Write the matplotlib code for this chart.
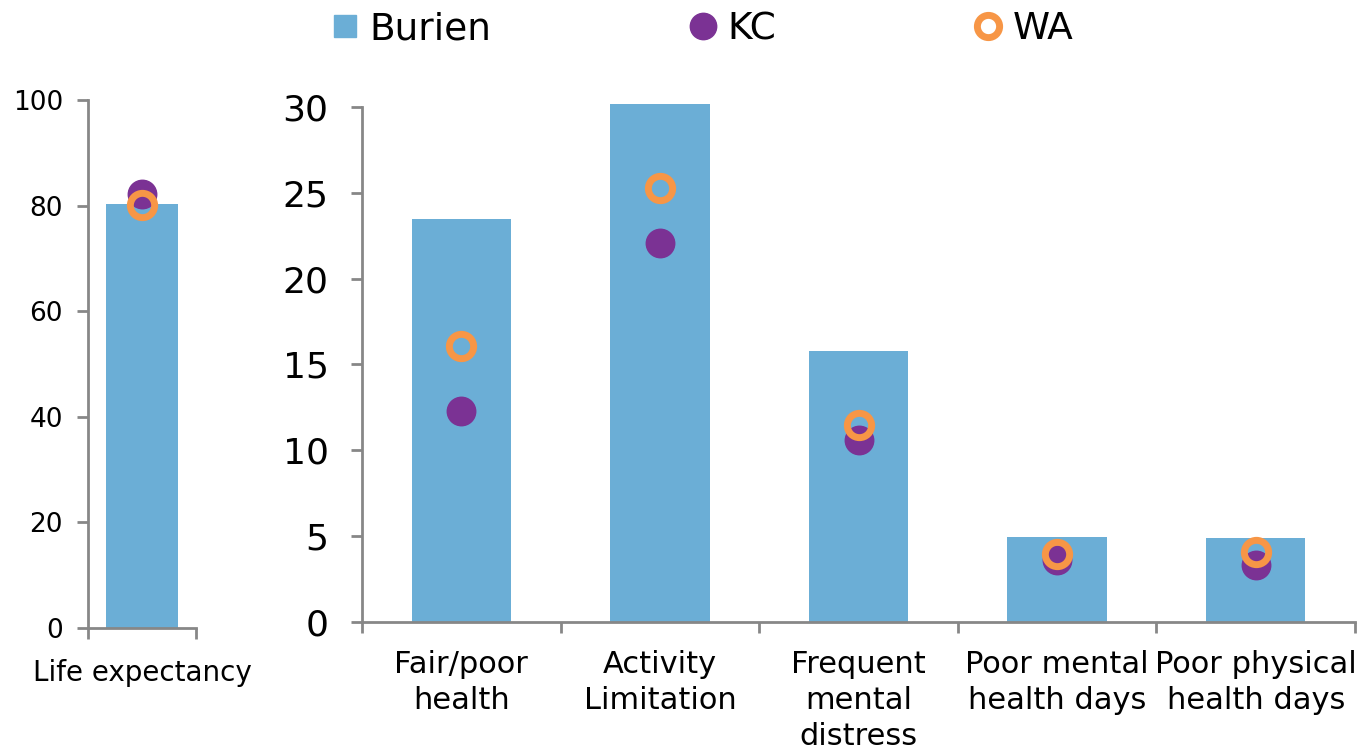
import numpy as np
import matplotlib.pyplot as plt
from matplotlib.lines import Line2D

# data ########################################################################
life_label = ['Life expectancy']
life_burien = [80.3]
life_kc = [82.2]
life_wa = [80.2]

categories = ['Fair/poor\nhealth', 'Activity\nLimitation', 'Frequent\nmental\ndistress',
              'Poor mental\nhealth days', 'Poor physical\nhealth days']
burien = [23.5, 30.2, 15.8, 4.95, 4.88]
kc = [12.3, 22.1, 10.6, 3.6, 3.3]
wa = [16.1, 25.3, 11.5, 3.95, 4.05]
###############################################################################

bar_col = '#6BAED6'
kc_col = '#7B3294'
wa_col = '#F79646'
spine_col = '#878787'

plt.rcParams['font.family'] = ['DejaVu Sans']

fig = plt.figure(figsize=(13.66, 7.51), dpi=100)
ax1 = fig.add_axes([0.0644, 0.1638, 0.079, 0.703])
ax2 = fig.add_axes([0.265, 0.1718, 0.727, 0.6858])

def style(ax):
    for s in ['top', 'right']:
        ax.spines[s].set_visible(False)
    for s in ['left', 'bottom']:
        ax.spines[s].set_color(spine_col)
        ax.spines[s].set_linewidth(2)
    ax.tick_params(axis='both', which='both', color=spine_col, width=2, length=8)

# left panel
x1 = np.arange(len(life_label))
ax1.bar(x1, life_burien, width=0.667, color=bar_col, zorder=1)
ax1.plot(x1, life_kc, 'o', ms=20.5, color=kc_col, zorder=2)
ax1.plot(x1, life_wa, 'o', ms=17.5, mfc='none', mec=wa_col, mew=5, zorder=3)
ax1.set_xlim(-0.5, 0.5)
ax1.set_ylim(0, 100)
ax1.set_yticks(range(0, 101, 20))
ax1.set_xticks([-0.5, 0.5], minor=True)
ax1.set_xticks(x1)
ax1.set_xticklabels(life_label, fontsize=20)
style(ax1)
ax1.tick_params(axis='y', labelsize=19, pad=10)
ax1.tick_params(axis='x', which='major', length=0, pad=22)

# right panel
x2 = np.arange(len(categories))
ax2.bar(x2, burien, width=0.5, color=bar_col, zorder=1, clip_on=False)
ax2.plot(x2, kc, 'o', ms=20.5, color=kc_col, ls='none', zorder=2)
ax2.plot(x2, wa, 'o', ms=17.5, mfc='none', mec=wa_col, mew=5, ls='none', zorder=3)
ax2.set_xlim(-0.5, 4.5)
ax2.set_ylim(0, 30)
ax2.set_yticks(range(0, 31, 5))
ax2.set_xticks(np.arange(-0.5, 4.6, 1), minor=True)
ax2.set_xticks(x2)
ax2.set_xticklabels(categories, fontsize=22, linespacing=1.3, va='top')
style(ax2)
ax2.tick_params(axis='y', labelsize=26, pad=16)
ax2.tick_params(axis='x', which='major', length=0, pad=20)

# legend
handles = [Line2D([], [], marker='s', ls='none', ms=16, color=bar_col),
           Line2D([], [], marker='o', ls='none', ms=19, color=kc_col),
           Line2D([], [], marker='o', ls='none', ms=16, mfc='none', mec=wa_col, mew=5)]
fig.legend(handles, ['Burien', 'KC', 'WA'], loc='upper left', bbox_to_anchor=(0.217, 1.03),
           ncol=3, frameon=False, columnspacing=5.25, handletextpad=0.25, handlelength=0.8,
           prop={'size': 27})

fig.savefig('out.png', dpi=100)
